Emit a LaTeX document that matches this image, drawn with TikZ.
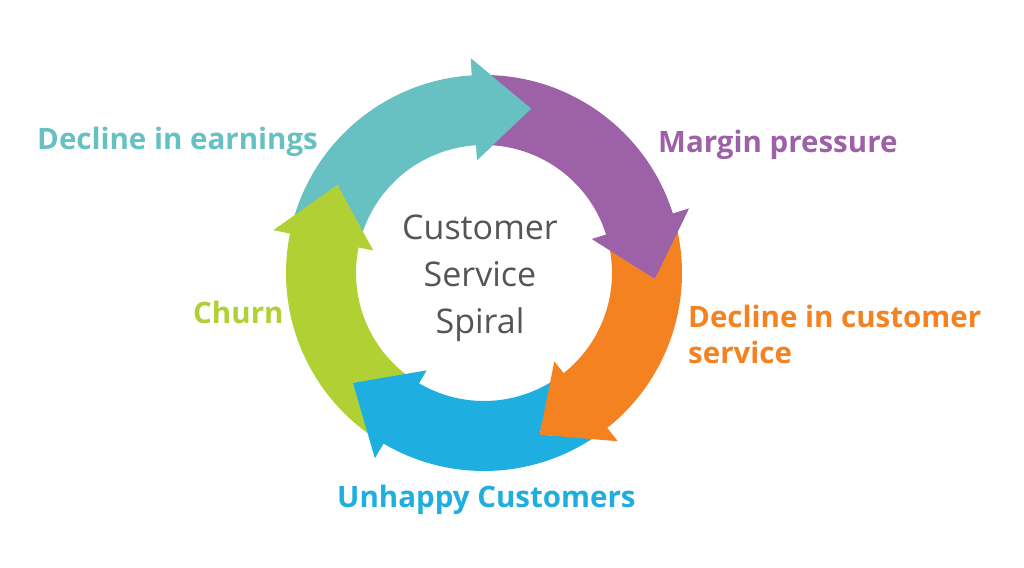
\documentclass[tikz,border=0pt]{standalone}
\usepackage{fontspec}
\setmainfont{Open Sans}
\usepackage{tikz}
\usetikzlibrary{positioning}

\definecolor{earnc}{HTML}{67C1C2}
\definecolor{marginc}{HTML}{9D61A7}
\definecolor{servc}{HTML}{F58220}
\definecolor{unhapc}{HTML}{1EAEE0}
\definecolor{churnc}{HTML}{B1D034}
\definecolor{spiralc}{HTML}{555555}

\begin{document}
\begin{tikzpicture}[x=1pt,y=1pt,
  stage/.style={font=\fontsize{29.5}{36}\selectfont\bfseries, inner sep=0pt, anchor=base west, align=left},
  title/.style={font=\fontsize{34}{47}\selectfont, inner sep=0pt, align=center, text=spiralc}]
\useasboundingbox (-484,-294) rectangle (540,273);

%Pfeile
\fill[earnc] (149:171pt) -- (163.5:198pt) arc[start angle=163.5, end angle=93.5, radius=198pt]
  -- (93.5:215pt) -- (74:171pt) -- (93.5:113pt) -- (93.5:128pt)
  arc[start angle=93.5, end angle=161.6, radius=128pt] -- cycle;
\fill[churnc] (-140:171pt) -- (-125.5:198pt) arc[start angle=-125.5, end angle=-191.5, radius=198pt]
  -- (-191.5:215pt) -- (-211:171pt) -- (-191.5:113pt) -- (-191.5:128pt)
  arc[start angle=-191.5, end angle=-127.4, radius=128pt] -- cycle;
\fill[unhapc] (-71:171pt) -- (-56.5:198pt) arc[start angle=-56.5, end angle=-120.5, radius=198pt]
  -- (-120.5:215pt) -- (-140:171pt) -- (-120.5:113pt) -- (-120.5:128pt)
  arc[start angle=-120.5, end angle=-58.4, radius=128pt] -- cycle;
\fill[servc] (-2:171pt) -- (12.5:198pt) arc[start angle=12.5, end angle=-51.5, radius=198pt]
  -- (-51.5:215pt) -- (-71:171pt) -- (-51.5:113pt) -- (-51.5:128pt)
  arc[start angle=-51.5, end angle=10.6, radius=128pt] -- cycle;
\fill[marginc] (74:171pt) -- (88.5:198pt) arc[start angle=88.5, end angle=17.5, radius=198pt]
  -- (17.5:215pt) -- (-2:171pt) -- (17.5:113pt) -- (17.5:128pt)
  arc[start angle=17.5, end angle=86.6, radius=128pt] -- cycle;
\fill[earnc] (93.5:215pt) -- (74:171pt) -- (93.5:113pt) -- cycle;

%Texte
\node (spiral) [title] at (-4,-5) {Customer\\Service\\Spiral};
\node (earnings) [stage, text=earnc] at (-447,123) {Decline in earnings};
\node (margin) [stage, text=marginc] at (174,120) {Margin pressure};
\node (service) [stage, text=servc] at (204,-90) {Decline in customer\\service};
\node (unhappy) [stage, text=unhapc] at (-147,-234) {Unhappy Customers};
\node (churn) [stage, text=churnc] at (-291,-50) {Churn};
\end{tikzpicture}
\end{document}
